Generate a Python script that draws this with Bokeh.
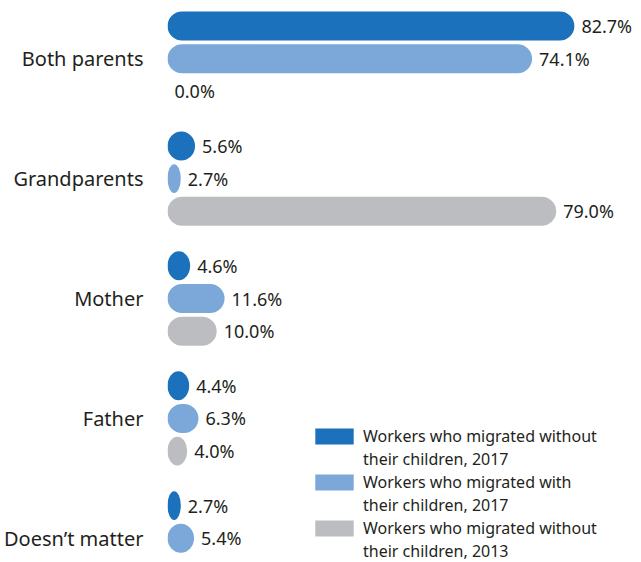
from bokeh.plotting import figure
from bokeh.models import Range1d, FixedTicker, Legend, LegendItem, ColumnDataSource
from bokeh.core.properties import value
from bokeh.embed import file_html
from bokeh.resources import INLINE

categories = ["Both parents", "Grandparents", "Mother", "Father", "Doesn\u2019t matter"]
without_2017 = [82.7, 5.6, 4.6, 4.4, 2.7]
with_2017 = [74.1, 2.7, 11.6, 6.3, 5.4]
without_2013 = [0.0, 79.0, 10.0, 4.0, None]
series_values = [without_2017, with_2017, without_2013]
series_labels = [
    ["Workers who migrated without", "their children, 2017"],
    ["Workers who migrated with", "their children, 2017"],
    ["Workers who migrated without", "their children, 2013"],
]
colors = ["#1b71bb", "#7ba7d9", "#bcbdc0"]

GROUP = 11
SLOT = 3
FONT = "Noto Sans"
TEXT_COLOR = "#231f20"

W, H = 641, 562
BORDER_LEFT = 167
PX_PER_X = 4.92
X_END = (W - BORDER_LEFT) / PX_PER_X
BAR_H = 2.66
BAR_PX = 29

p = figure(width=W, height=H, output_backend="svg", toolbar_location=None,
           x_range=Range1d(0, X_END), y_range=Range1d(49.22, -2.34),
           x_axis_location=None,
           min_border_left=BORDER_LEFT, min_border_right=0, min_border_top=0, min_border_bottom=0)
p.outline_line_color = None
p.xgrid.visible = False
p.ygrid.visible = False

ax = p.yaxis[0]
ax.ticker = FixedTicker(ticks=[GROUP * i + SLOT for i in range(len(categories))])
ax.major_label_overrides = {GROUP * i + SLOT: c for i, c in enumerate(categories)}
ax.axis_line_color = None
ax.major_tick_line_color = None
ax.minor_tick_line_color = None
ax.major_tick_out = 0
ax.major_tick_in = 0
ax.minor_tick_out = 0
ax.major_label_standoff = 24
ax.major_label_text_font = FONT
ax.major_label_text_font_size = "20px"
ax.major_label_text_color = TEXT_COLOR

items = []
for j, vals in enumerate(series_values):
    big = dict(y=[], right=[])
    small = dict(y=[], x=[], w=[])
    lab = dict(y=[], x=[], label=[])
    for i, v in enumerate(vals):
        if v is None:
            continue
        y = GROUP * i + SLOT * j
        if v * PX_PER_X >= BAR_PX:
            big["y"].append(y)
            big["right"].append(v)
        elif v > 0:
            small["y"].append(y)
            small["x"].append(v / 2)
            small["w"].append(v)
        lab["y"].append(y)
        lab["x"].append(v)
        lab["label"].append(f"{v:.1f}%")
    r = p.hbar(y="y", left=0, right="right", height=BAR_H, source=ColumnDataSource(big),
               fill_color=colors[j], line_color=None, border_radius=15)
    p.ellipse(x="x", y="y", width="w", height=BAR_H, source=ColumnDataSource(small),
              fill_color=colors[j], line_color=None)
    p.text(x="x", y="y", text="label", source=ColumnDataSource(lab), x_offset=7,
           text_baseline="middle", text_align="left",
           text_font=value(FONT), text_font_size="18px", text_color=TEXT_COLOR)
    dummy = p.hbar(y=[], left=[], right=[], height=1, fill_alpha=0, line_alpha=0)
    items.append(LegendItem(label=series_labels[j][0], renderers=[r]))
    items.append(LegendItem(label=series_labels[j][1], renderers=[dummy]))

legend = Legend(items=items, location=(143, 0),
                glyph_width=48, glyph_height=20, label_standoff=5, label_height=16,
                label_text_font=FONT, label_text_font_size="16px",
                label_text_color=TEXT_COLOR,
                spacing=1, padding=0, margin=0,
                border_line_color=None, background_fill_alpha=0)
p.add_layout(legend)

open("out.html", "w").write(file_html(p, INLINE))
